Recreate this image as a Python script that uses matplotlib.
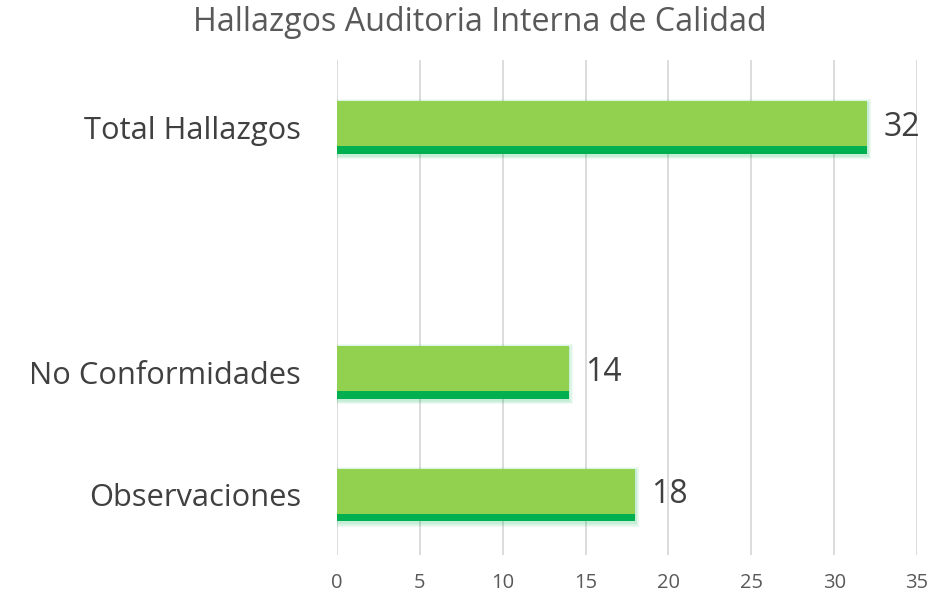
import matplotlib
matplotlib.use("Agg")
import matplotlib.pyplot as plt

categories = ["Observaciones", "No Conformidades", "", "Total Hallazgos"]
values = [18, 14, None, 32]
xticks = [0, 5, 10, 15, 20, 25, 30, 35]
title = "Hallazgos Auditoria Interna de Calidad"

plt.rcParams['font.family'] = ['Open Sans', 'DejaVu Sans']

fig = plt.figure(figsize=(9.31, 5.97), dpi=100)
ax = fig.add_axes([0.362, 0.0704, 0.623, 0.829])

pos = [i for i, v in enumerate(values) if v is not None]
vals = [v for v in values if v is not None]

bar_h = 0.43
strip_h = 0.06
# soft shadow
for k, a in enumerate([0.06, 0.08, 0.10]):
    grow = 0.03 - k * 0.01
    ax.barh([p - 0.015 for p in pos], [v + grow * 8 for v in vals], height=bar_h + grow * 2,
            left=-0.0, color="#00B050", alpha=a, zorder=2, linewidth=0)
ax.barh(pos, vals, height=bar_h, color="#92D050", zorder=3, linewidth=0)
ax.barh([p - bar_h / 2 + strip_h / 2 for p in pos], vals, height=strip_h,
        color="#00B050", zorder=4, linewidth=0)

for p, v in zip(pos, vals):
    ax.text(v + 0.95, p, str(v), va="center", ha="left", fontsize=23, color="#404040", zorder=5)

ax.set_xlim(0, 35)
ax.set_ylim(-0.49, 3.55)
ax.set_xticks(xticks)
ax.set_xticklabels([str(t) for t in xticks], fontsize=14.5, color="#595959")
ax.set_yticks(range(len(categories)))
ax.set_yticklabels(categories, fontsize=22.2, color="#404040")
ax.tick_params(axis="both", length=0)
ax.tick_params(axis="x", pad=13)
ax.tick_params(axis="y", pad=26)
ax.grid(axis="x", color="#D9D9D9", linewidth=1.3, zorder=0)
ax.set_axisbelow(True)
for s in ax.spines.values():
    s.set_visible(False)

fig.text(0.515, 0.963, title, ha="center", va="center", fontsize=23.2, color="#595959")

fig.savefig("out.png", dpi=100)
